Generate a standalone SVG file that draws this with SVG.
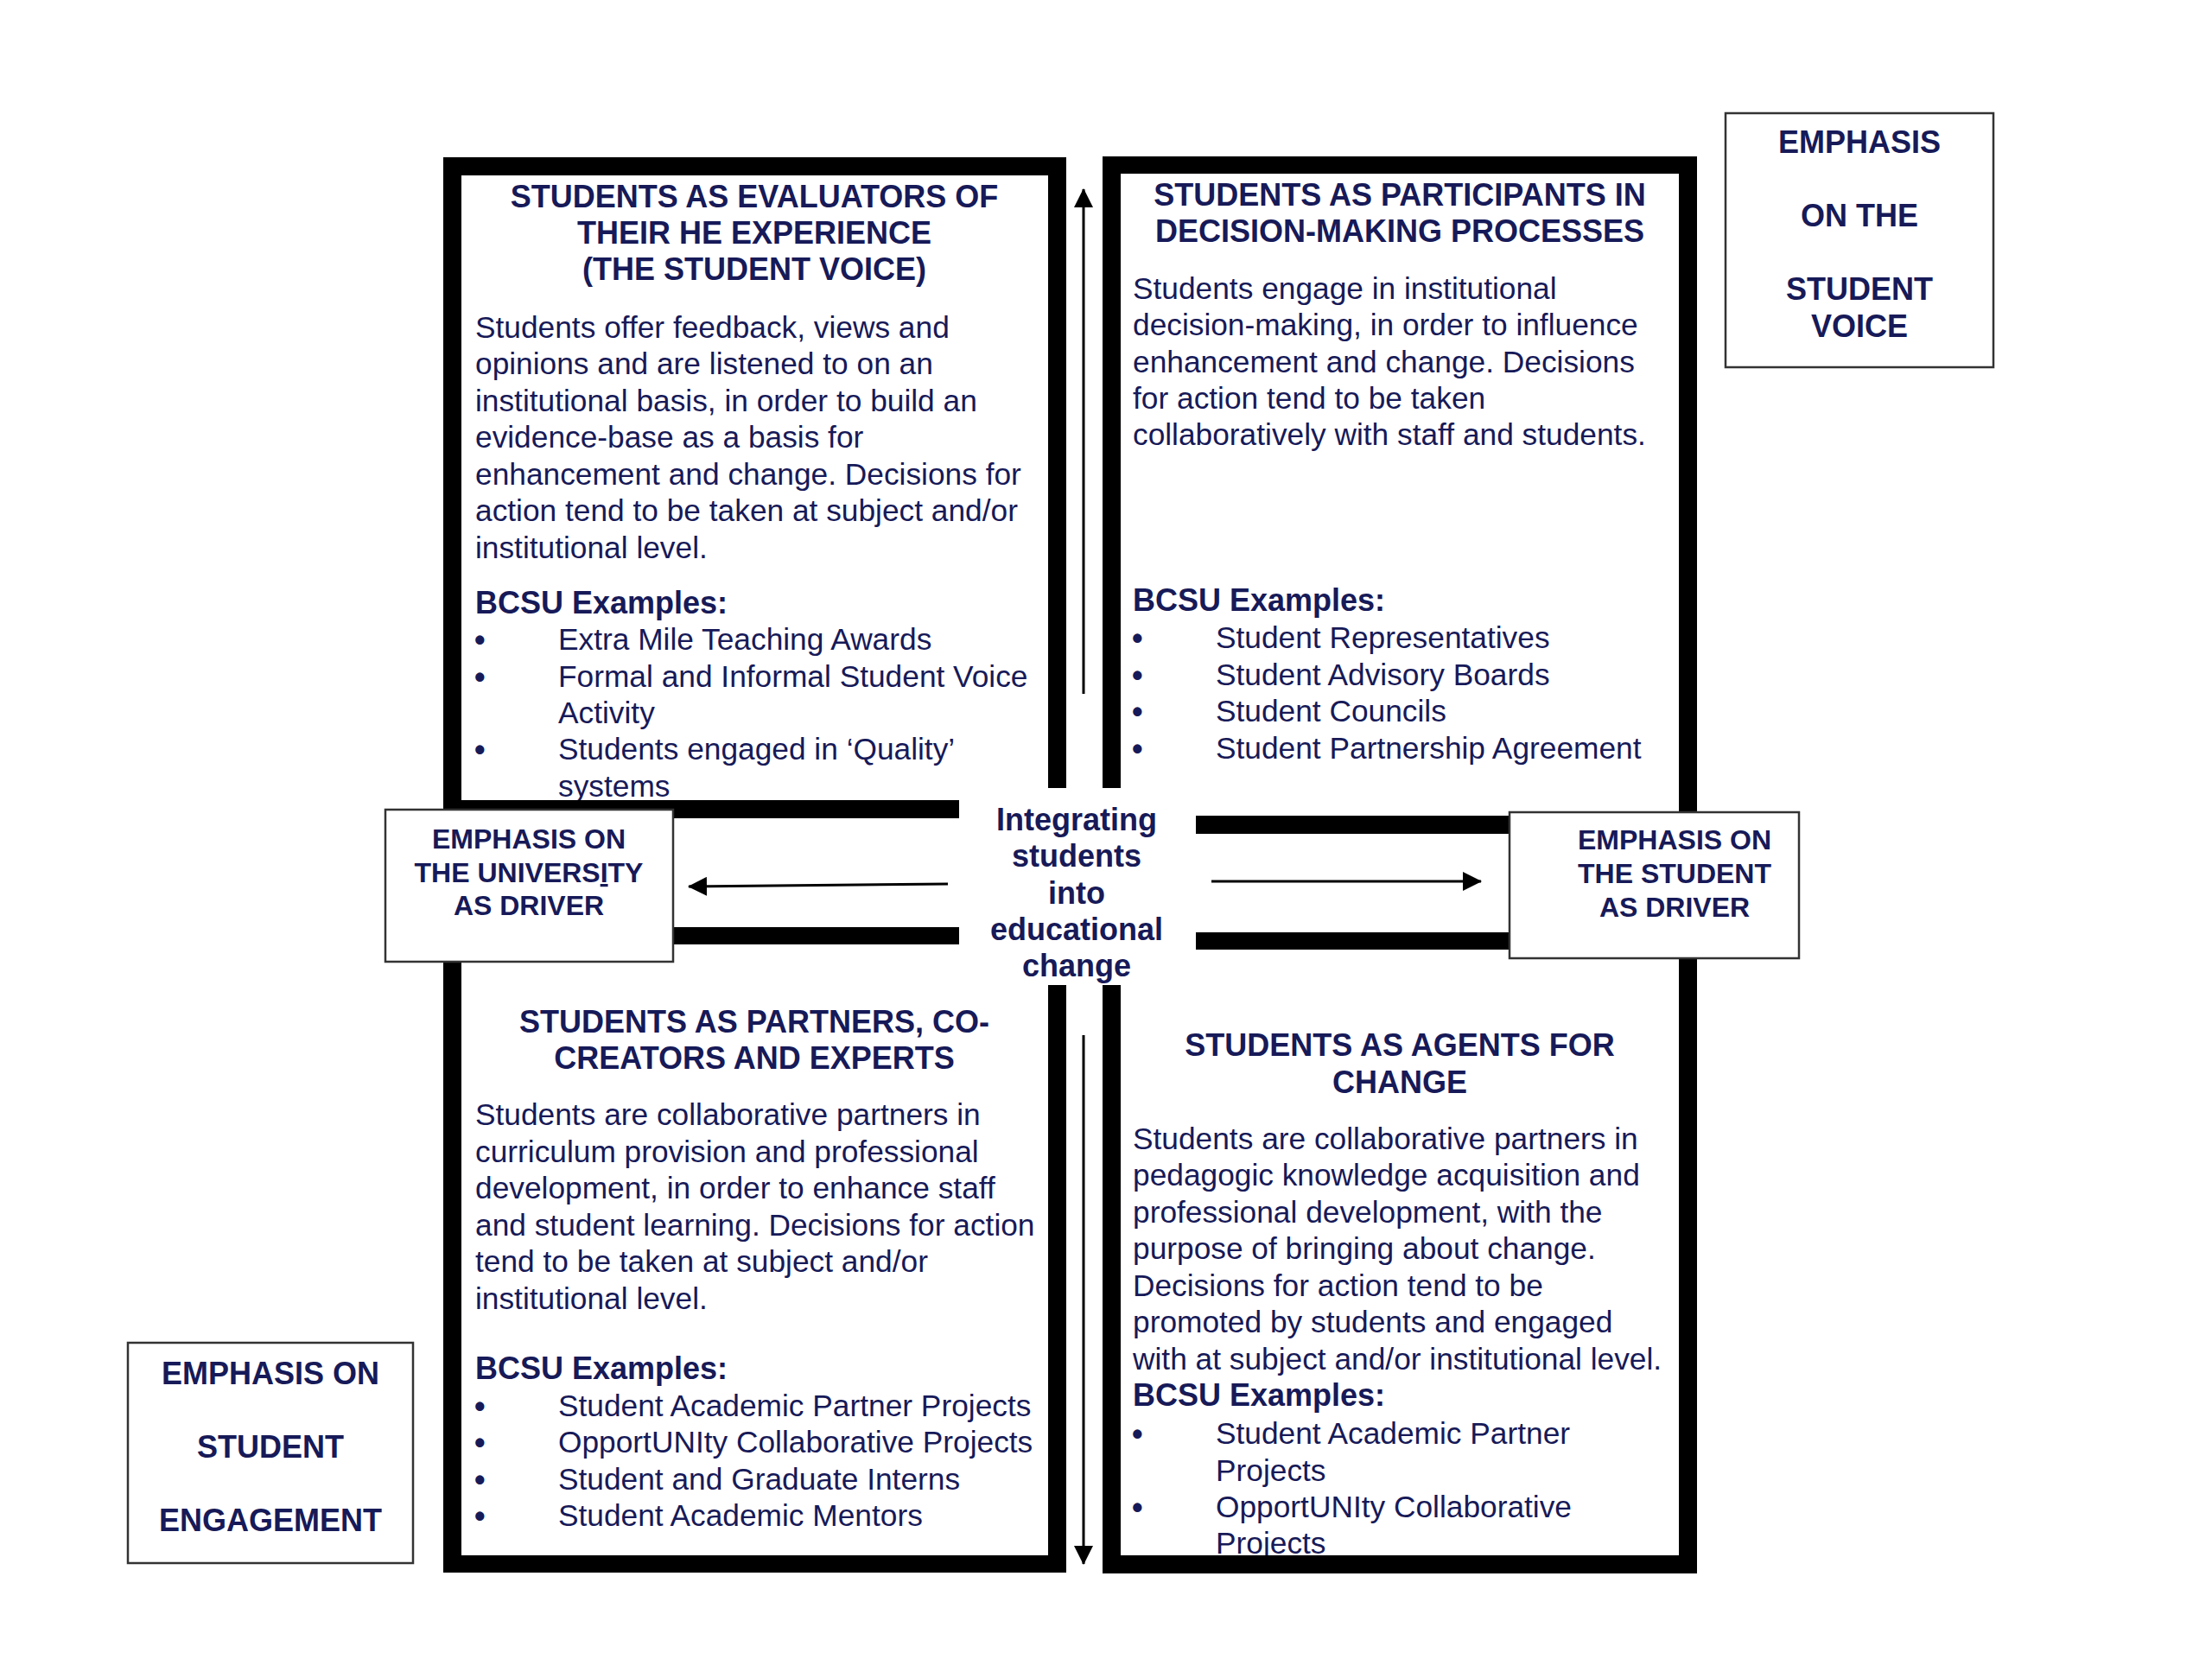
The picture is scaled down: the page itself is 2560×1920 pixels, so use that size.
<svg xmlns="http://www.w3.org/2000/svg" width="2560" height="1920" viewBox="0 0 2560 1920">
<style>
.t{font-family:"Liberation Sans",Arial,sans-serif;fill:#171a58}
.h{font-size:36px;font-weight:bold;text-anchor:middle}
.b{font-size:35.3px}
.bb{font-size:36px;font-weight:bold}
.u{font-size:36px;font-weight:bold}
.e{font-size:32px;font-weight:bold;text-anchor:middle}
.frame{fill:#000}
.ebox{fill:#fff;stroke:#333;stroke-width:2.5}
.conn{stroke:#000;stroke-width:3;fill:none;marker-end:url(#ah)}
</style>
<defs>
<marker id="ah" viewBox="0 0 22 22" refX="21" refY="11" markerWidth="22" markerHeight="22" markerUnits="userSpaceOnUse" orient="auto">
<path d="M0 0 L22 11 L0 22 Z" fill="#000"/>
</marker>
</defs>
<rect width="2560" height="1920" fill="#fff"/>

<g id="q-evaluators">
<g class="t">
<text class="h" x="873" y="240">STUDENTS AS EVALUATORS OF</text>
<text class="h" x="873" y="282">THEIR HE EXPERIENCE</text>
<text class="h" x="873" y="324">(THE STUDENT VOICE)</text>
<text class="b" x="550" y="391">Students offer feedback, views and</text>
<text class="b" x="550" y="433">opinions and are listened to on an</text>
<text class="b" x="550" y="476">institutional basis, in order to build an</text>
<text class="b" x="550" y="518">evidence-base as a basis for</text>
<text class="b" x="550" y="561">enhancement and change. Decisions for</text>
<text class="b" x="550" y="603">action tend to be taken at subject and/or</text>
<text class="b" x="550" y="646">institutional level.</text>
<text class="bb" x="550" y="710">BCSU Examples:</text>
<text class="u" x="549" y="753">•</text><text class="b" x="646" y="752">Extra Mile Teaching Awards</text>
<text class="u" x="549" y="796">•</text><text class="b" x="646" y="795">Formal and Informal Student Voice</text>
<text class="b" x="646" y="837">Activity</text>
<text class="u" x="549" y="880">•</text><text class="b" x="646" y="879">Students engaged in ‘Quality’</text>
<text class="b" x="646" y="922">systems</text>
</g>
<path class="frame" d="M513 182 H1234 V912 H1213 V203 H534 V926 H1110 V947 H513 Z"/>
</g>

<g id="q-participants">
<g class="t">
<text class="h" x="1620" y="238">STUDENTS AS PARTICIPANTS IN</text>
<text class="h" x="1620" y="280">DECISION-MAKING PROCESSES</text>
<text class="b" x="1311" y="346">Students engage in institutional</text>
<text class="b" x="1311" y="388">decision-making, in order to influence</text>
<text class="b" x="1311" y="431">enhancement and change. Decisions</text>
<text class="b" x="1311" y="473">for action tend to be taken</text>
<text class="b" x="1311" y="515">collaboratively with staff and students.</text>
<text class="bb" x="1311" y="707">BCSU Examples:</text>
<text class="u" x="1310" y="751">•</text><text class="b" x="1407" y="750">Student Representatives</text>
<text class="u" x="1310" y="794">•</text><text class="b" x="1407" y="793">Student Advisory Boards</text>
<text class="u" x="1310" y="836">•</text><text class="b" x="1407" y="835">Student Councils</text>
<text class="u" x="1310" y="879">•</text><text class="b" x="1407" y="878">Student Partnership Agreement</text>
</g>
<path class="frame" d="M1276 181 H1964 V965 H1384 V944 H1943 V201 H1297 V912 H1276 Z"/>
</g>

<g id="q-partners">
<g class="t">
<text class="h" x="873" y="1195">STUDENTS AS PARTNERS, CO-</text>
<text class="h" x="873" y="1237">CREATORS AND EXPERTS</text>
<text class="b" x="550" y="1302">Students are collaborative partners in</text>
<text class="b" x="550" y="1345">curriculum provision and professional</text>
<text class="b" x="550" y="1387">development, in order to enhance staff</text>
<text class="b" x="550" y="1430">and student learning. Decisions for action</text>
<text class="b" x="550" y="1472">tend to be taken at subject and/or</text>
<text class="b" x="550" y="1515">institutional level.</text>
<text class="bb" x="550" y="1596">BCSU Examples:</text>
<text class="u" x="549" y="1640">•</text><text class="b" x="646" y="1639">Student Academic Partner Projects</text>
<text class="u" x="549" y="1682">•</text><text class="b" x="646" y="1681">OpportUNIty Collaborative Projects</text>
<text class="u" x="549" y="1725">•</text><text class="b" x="646" y="1724">Student and Graduate Interns</text>
<text class="u" x="549" y="1767">•</text><text class="b" x="646" y="1766">Student Academic Mentors</text>
</g>
<path class="frame" d="M513 1073 H1110 V1093 H534 V1800 H1213 V1140 H1234 V1820 H513 Z"/>
</g>

<g id="q-agents">
<g class="t">
<text class="h" x="1620" y="1222">STUDENTS AS AGENTS FOR</text>
<text class="h" x="1620" y="1265">CHANGE</text>
<text class="b" x="1311" y="1330">Students are collaborative partners in</text>
<text class="b" x="1311" y="1372">pedagogic knowledge acquisition and</text>
<text class="b" x="1311" y="1415">professional development, with the</text>
<text class="b" x="1311" y="1457">purpose of bringing about change.</text>
<text class="b" x="1311" y="1500">Decisions for action tend to be</text>
<text class="b" x="1311" y="1542">promoted by students and engaged</text>
<text class="b" x="1311" y="1585">with at subject and/or institutional level.</text>
<text class="bb" x="1311" y="1627">BCSU Examples:</text>
<text class="u" x="1310" y="1672">•</text><text class="b" x="1407" y="1671">Student Academic Partner</text>
<text class="b" x="1407" y="1714">Projects</text>
<text class="u" x="1310" y="1757">•</text><text class="b" x="1407" y="1756">OpportUNIty Collaborative</text>
<text class="b" x="1407" y="1798">Projects</text>
</g>
<path class="frame" d="M1384 1079 H1964 V1821 H1276 V1140 H1297 V1800 H1943 V1099 H1384 Z"/>
</g>

<g id="center-label" class="t">
<text class="h" x="1246" y="961">Integrating</text>
<text class="h" x="1246" y="1003">students</text>
<text class="h" x="1246" y="1046">into</text>
<text class="h" x="1246" y="1088">educational</text>
<text class="h" x="1246" y="1130">change</text>
</g>

<g id="connectors">
<path class="conn" d="M1254 803 V219"/>
<path class="conn" d="M1254 1198 V1810"/>
<path class="conn" d="M1097 1023 L797 1026"/>
<path class="conn" d="M1402 1020 H1714"/>
</g>

<g id="box-university">
<rect class="ebox" x="446" y="937" width="333" height="176"/>
<g class="t">
<text class="e" x="612" y="982">EMPHASIS ON</text>
<text class="e" x="612" y="1021">THE UNIVERS<tspan text-decoration="underline">I</tspan>TY</text>
<text class="e" x="612" y="1059">AS DRIVER</text>
</g>
</g>

<g id="box-student-driver">
<rect class="ebox" x="1747" y="940" width="335" height="169"/>
<g class="t">
<text class="e" x="1938" y="983">EMPHASIS ON</text>
<text class="e" x="1938" y="1022">THE STUDENT</text>
<text class="e" x="1938" y="1061">AS DRIVER</text>
</g>
</g>

<g id="box-student-voice">
<rect class="ebox" x="1997" y="131" width="310" height="294"/>
<g class="t">
<text class="h" x="2152" y="177">EMPHASIS</text>
<text class="h" x="2152" y="262">ON THE</text>
<text class="h" x="2152" y="347">STUDENT</text>
<text class="h" x="2152" y="390">VOICE</text>
</g>
</g>

<g id="box-engagement">
<rect class="ebox" x="148" y="1554" width="330" height="255"/>
<g class="t">
<text class="h" x="313" y="1602">EMPHASIS ON</text>
<text class="h" x="313" y="1687">STUDENT</text>
<text class="h" x="313" y="1772">ENGAGEMENT</text>
</g>
</g>
</svg>
